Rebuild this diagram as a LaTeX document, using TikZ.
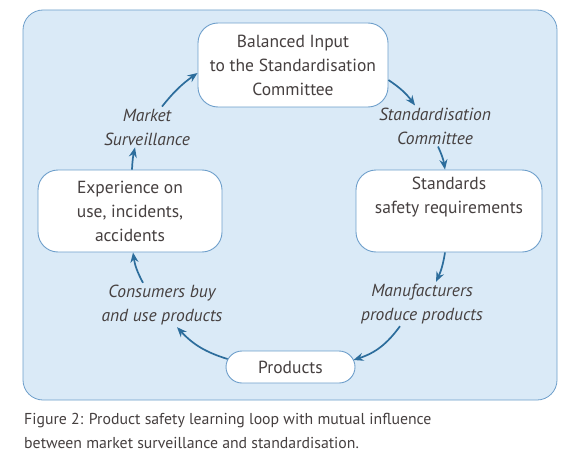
\documentclass[tikz,border=0pt]{standalone}
\usepackage{fontspec}
\setmainfont{PT Sans}
\usetikzlibrary{arrows.meta, positioning}
\definecolor{panelcol}{HTML}{DAEAF7}
\definecolor{edgecol}{HTML}{6E9FCB}
\definecolor{arrowcol}{HTML}{2C6D9C}
\definecolor{textcol}{HTML}{464040}
\tikzset{
  stage/.style={rectangle, rounded corners=20pt, draw=edgecol, fill=white, line width=0.9pt, align=center, font=\fontsize{17.5}{24}\selectfont, text=textcol},
  flowlabel/.style={align=center, font=\fontsize{17.5}{24}\selectfont\itshape, text=textcol, inner sep=2pt},
  loop/.style={-{Stealth[length=10pt, width=8pt]}, arrowcol, line width=1.7pt},
}
\begin{document}
\begin{tikzpicture}[x=1pt, y=-1pt]
  \useasboundingbox (0,0) rectangle (567,468);
  \fill[white] (0,0) rectangle (567,468);
  \draw[edgecol, fill=panelcol, rounded corners=20pt, line width=0.8pt] (23,10) rectangle (557,400);
  % stages of the loop
  \node[stage, minimum width=190pt, minimum height=84pt] (input) at (293,65) {Balanced Input\\to the Standardisation\\Committee};
  \node[stage, minimum width=186pt, minimum height=82pt] (stds) at (449,211) {Standards\\safety requirements\\\strut};
  \node[stage, minimum width=184pt, minimum height=82pt] (exper) at (130,211) {Experience on\\use, incidents,\\accidents};
  \node[stage, rounded corners=16pt, minimum width=129pt, minimum height=32pt, inner sep=0pt] (prod) at (290.5,367) {Products};
  % actors on the arrows
  \node[flowlabel] (market) at (147,127) {Market\\Surveillance};
  \node[flowlabel] (stdcom) at (435,126) {Standardisation\\Committee};
  \node[flowlabel] (manuf) at (422,304) {Manufacturers\\produce products};
  \node[flowlabel] (consum) at (162,305) {Consumers buy\\and use products};
  % loop arrows
  \draw[loop] (market.north -| 162,0) to[bend left=8] (input.west |- 0,73);
  \draw[loop] (input.east |- 0,80) to[bend left=10] (stdcom.north -| 415,0);
  \draw[loop] (stdcom.south -| 438,0) to[bend left=8] (stds.north -| 445,0);
  \draw[loop] (stds.south -| 445,0) to[bend left=8] (manuf.north -| 436,0);
  \draw[loop] (manuf.south -| 400,0) to[bend left=18] ([xshift=-2pt, yshift=7pt]prod.east);
  \draw[loop] ([xshift=2pt, yshift=8pt]prod.west) to[bend left=15] (consum.south -| 177,0);
  \draw[loop] (consum.north -| 143,0) to[bend left=10] (exper.south -| 133,0);
  \draw[loop] (exper.north -| 132,0) to[bend left=5] (market.south -| 135,0);
  % caption
  \node[anchor=west, align=left, text=textcol, font=\fontsize{15.8}{24.5}\selectfont, inner sep=0pt] (caption) at (24,431) {Figure 2: Product safety learning loop with mutual influence\\between market surveillance and standardisation.};
\end{tikzpicture}
\end{document}
